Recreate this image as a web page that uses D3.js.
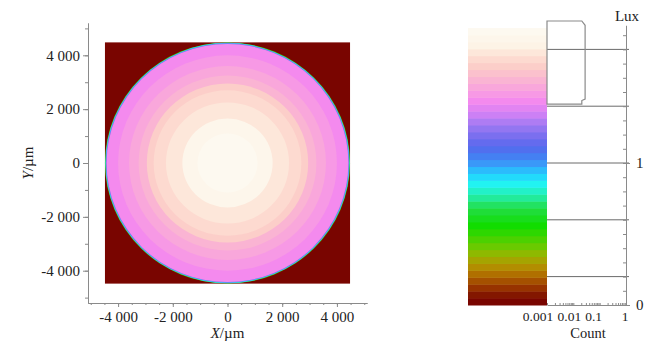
<!DOCTYPE html>
<html>
<head>
<meta charset="utf-8">
<script src="https://cdn.jsdelivr.net/npm/d3@7"></script>
<style>
  body { margin: 0; background: #fff; }
  svg text { font-family: "Liberation Serif", "DejaVu Serif", serif; fill: #222; }
</style>
</head>
<body>
<svg id="chart"></svg>
<script>
// Irradiance map (left) and its colour bar with histogram (right).
const xTicks = [-4000, -2000, 0, 2000, 4000];
const yTicks = [-4000, -2000, 0, 2000, 4000];
const mapHalf = 4480; // half width of the detector square, µm

// Concentric rings of the illuminated disc, outer to inner.
const ringRadius = [4480, 4465, 4445, 4420, 4000, 3600, 3250, 2950, 2700, 2250, 1650, 1100];
const ringLux = [0.45, 0.9, 1.2, 1.43, 1.47, 1.53, 1.6, 1.67, 1.74, 1.8, 1.87, 1.93];

// Colour bar stops (Lux -> colour).
const cbLux = [0, 0.05, 0.13, 0.21, 0.28, 0.35, 0.42, 0.56, 0.68, 0.77, 0.85, 0.92, 1.0, 1.08, 1.16, 1.27, 1.34, 1.43, 1.51, 1.6, 1.69, 1.76, 1.83, 1.95];
const cbColor = ['#780000', '#7a0a00', '#9a3800', '#b06a00', '#b39400', '#99b300', '#66cc00', '#11dd00', '#22dd44', '#22eeaa', '#22f5f0', '#22d0ff', '#3a98f8', '#4a70ee', '#6a6aee', '#a07af2', '#cc80f5', '#f488f0', '#f8a0e0', '#fbb8d0', '#fcd0c8', '#fde2d6', '#fdf3e6', '#fdfaf2'];
const luxMax = 1.95;
const nBands = 40;

// Histogram outline (Lux, Count).
const histLux = [1.415, 1.415, 1.44, 1.45, 1.97, 2.0, 2.0];
const histCount = [0.001, 0.021, 0.021, 0.028, 0.028, 0.021, 0.001];

const luxGrid = [0.2, 0.6, 1.0, 1.4, 1.8];
const luxLabels = [0, 1];
const countTicks = [0.001, 0.01, 0.1, 1];
const countLabels = ['0.001', '0.01', '0.1', '1'];

const width = 659, height = 343;
const serif = '"Liberation Serif", "DejaVu Serif", serif';
const svg = d3.select('#chart').attr('width', width).attr('height', height)
    .attr('font-family', serif);

const fmt = d3.formatLocale({decimal: '.', thousands: ' ', grouping: [3], currency: ['', ''], minus: '-'}).format(',');

// Scales.
const x = d3.scaleLinear().domain([-5100, 5100]).range([88, 367]);
const y = d3.scaleLinear().domain([-5200, 5200]).range([303, 23]);
const lux = d3.scaleLinear().domain([0, 1.97]).range([305, 305 - 1.97 * 142]);
const count = d3.scaleLog().domain([0.001, 1]).range([547, 626]);
const cmap = d3.scaleLinear().domain(cbLux).range(cbColor).interpolate(d3.interpolateRgb);
const step = luxMax / nBands;
const band = v => cmap((Math.max(0, Math.min(Math.floor(v / step), nBands - 1)) + 0.5) * step);

// Map.
const map = svg.append('g');
map.append('rect')
    .attr('x', x(-mapHalf)).attr('y', y(mapHalf))
    .attr('width', x(mapHalf) - x(-mapHalf)).attr('height', y(-mapHalf) - y(mapHalf))
    .attr('fill', band(0));
map.selectAll('ellipse').data(ringRadius).join('ellipse')
    .attr('cx', x(0)).attr('cy', y(0))
    .attr('rx', d => x(d) - x(0)).attr('ry', d => y(0) - y(d))
    .attr('fill', (d, i) => band(ringLux[i]));

// Axes for the map.
const axisColor = '#8a8a8a';
function styleAxis(g) {
  g.attr('font-family', serif);
  g.selectAll('.domain').attr('stroke', axisColor);
  g.selectAll('.tick line').attr('stroke', axisColor);
  g.selectAll('.tick text').attr('font-size', 15).attr('fill', '#222');
}
svg.append('g').attr('transform', 'translate(0,303)')
    .call(d3.axisBottom(x).tickValues(d3.range(-5000, 5001, 500)).tickSize(2).tickFormat('').tickSizeOuter(0))
    .call(styleAxis);
svg.append('g').attr('transform', 'translate(0,303)')
    .call(d3.axisBottom(x).tickValues(xTicks).tickSize(4).tickFormat(fmt).tickSizeOuter(0).tickPadding(4))
    .call(styleAxis);
svg.append('g').attr('transform', 'translate(88,0)')
    .call(d3.axisLeft(y).tickValues(d3.range(-5000, 5001, 1000)).tickSize(3).tickFormat('').tickSizeOuter(0))
    .call(styleAxis);
svg.append('g').attr('transform', 'translate(88,0)')
    .call(d3.axisLeft(y).tickValues(yTicks).tickSize(5).tickFormat(fmt).tickSizeOuter(0).tickPadding(3))
    .call(styleAxis);

svg.append('text').attr('x', x(0)).attr('y', 338).attr('text-anchor', 'middle').attr('font-size', 15)
    .call(t => { t.append('tspan').attr('font-style', 'italic').text('X'); t.append('tspan').text('/µm'); });
svg.append('text').attr('transform', `translate(33,${y(0)}) rotate(-90)`).attr('text-anchor', 'middle').attr('font-size', 15)
    .call(t => { t.append('tspan').attr('font-style', 'italic').text('Y'); t.append('tspan').text('/µm'); });

// Colour bar.
const bands = d3.range(nBands);
svg.append('g').selectAll('rect').data(bands).join('rect')
    .attr('x', 468).attr('width', 547 - 468)
    .attr('y', i => lux((i + 1) * step)).attr('height', i => lux(i * step) - lux((i + 1) * step) + 0.5)
    .attr('fill', i => cmap((i + 0.5) * step));

// Grid lines across the histogram.
svg.append('g').selectAll('line').data(luxGrid).join('line')
    .attr('x1', 547).attr('x2', 629)
    .attr('y1', d => lux(d)).attr('y2', d => lux(d))
    .attr('stroke', '#6a6a6a').attr('stroke-width', 1);

// Histogram outline.
const histLine = d3.line().x((d, i) => count(histCount[i])).y(d => lux(d));
svg.append('path').attr('d', histLine(histLux) + 'Z')
    .attr('fill', 'none').attr('stroke', '#8a8a8a').attr('stroke-width', 1.2);

// Lux axis.
svg.append('g').attr('transform', 'translate(626,0)')
    .call(d3.axisLeft(lux).tickValues(d3.range(0, 19.5).map(i => i / 10)).tickSize(3).tickFormat('').tickSizeOuter(0))
    .call(styleAxis);
svg.append('g').attr('transform', 'translate(626,0)')
    .call(d3.axisRight(lux).tickValues(luxLabels).tickSize(4).tickFormat(d3.format('d')).tickSizeOuter(0).tickPadding(6))
    .call(styleAxis)
    .call(g => g.select('.domain').remove());
svg.append('text').attr('x', 627).attr('y', 21).attr('text-anchor', 'middle').attr('font-size', 15).text('Lux');

// Count axis.
const countMinor = [];
[0.001, 0.01, 0.1].forEach(d => { for (let k = 1; k < 10; k++) countMinor.push(d * k); });
svg.append('g').attr('transform', 'translate(0,305)')
    .call(d3.axisTop(count).tickValues(countMinor).tickSize(2).tickFormat('').tickSizeOuter(0))
    .call(styleAxis);
// Labels are packed tightly under the short log axis, nudged left as in the original.
const countLabelShift = [-9, -4, -6, -1];
svg.append('g').selectAll('text').data(countTicks).join('text')
    .attr('x', (d, i) => count(d) + countLabelShift[i]).attr('y', 321)
    .attr('text-anchor', 'middle').attr('font-size', 13.5)
    .text((d, i) => countLabels[i]);
svg.append('text').attr('x', 588).attr('y', 338).attr('text-anchor', 'middle').attr('font-size', 14.5).text('Count');
</script>
</body>
</html>
